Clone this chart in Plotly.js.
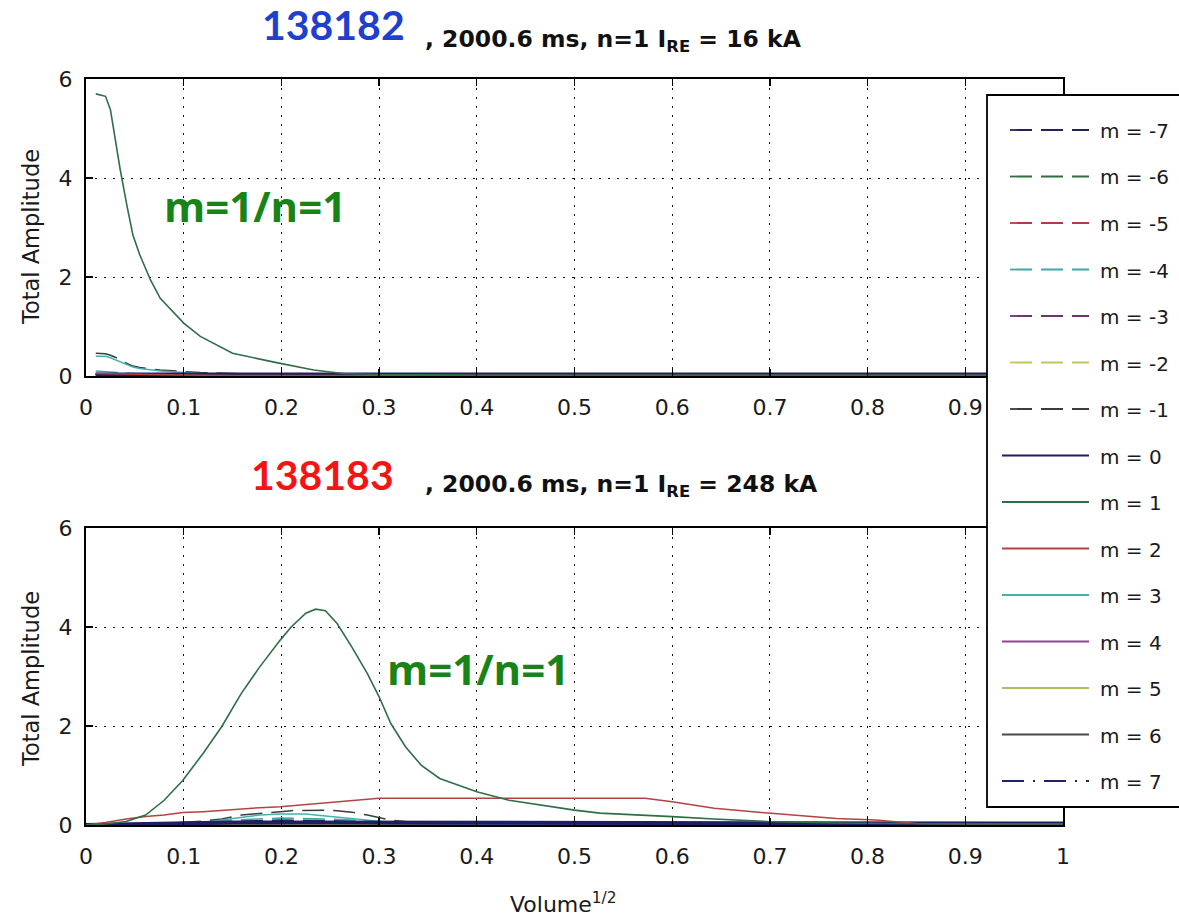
<!DOCTYPE html>
<html>
<head>
<meta charset="utf-8">
<script src="https://cdn.plot.ly/plotly-3.0.1.min.js"></script>
<style>html,body{margin:0;padding:0;background:#fff;}#chart{width:1179px;height:917px;}</style>
</head>
<body>
<div id="chart"></div>
<script>
// ---------------- DATA ----------------
const M_VALUES = [-7, -6, -5, -4, -3, -2, -1, 0, 1, 2, 3, 4, 5, 6, 7];
const M_LABELS = ["m = -7","m = -6","m = -5","m = -4","m = -3","m = -2","m = -1","m = 0","m = 1","m = 2","m = 3","m = 4","m = 5","m = 6","m = 7"];
const M_COLORS = ["#22225e","#2f6e3e","#b43a48","#3fa8a8","#6a3470","#c4c45a","#3c3c3c",
                  "#1e1e62","#2f6e46","#b04444","#45b0b0","#94409a","#b8b860","#4a4a4a","#22226a"];

const TITLE_TOP_SHOT = "138182";
const TITLE_TOP_REST = ", 2000.6 ms, n=1 I<sub>RE</sub> = 16 kA";
const TITLE_BOT_SHOT = "138183";
const TITLE_BOT_REST = ", 2000.6 ms, n=1 I<sub>RE</sub> = 248 kA";
const MODE_LABEL = "m=1/n=1";
const Y_TITLE = "Total Amplitude";
const X_TITLE = "Volume<sup>1/2</sup>";

// Top panel (138182): dense grid for the visible curves
const TOP_X = [0.01, 0.02, 0.025, 0.03, 0.035, 0.042, 0.048, 0.055, 0.066, 0.076, 0.1, 0.117, 0.15, 0.195, 0.233, 0.263, 0.3, 0.4, 0.5, 0.6, 0.7, 0.8, 0.9, 1.0];
const top_m1   = [5.70, 5.65, 5.38, 4.77, 4.17, 3.43, 2.85, 2.45, 1.94, 1.57, 1.07, 0.80, 0.46, 0.27, 0.12, 0.05, 0.03, 0.02, 0.02, 0.02, 0.02, 0.02, 0.02, 0.02];
const top_mn1  = [0.46, 0.45, 0.42, 0.38, 0.32, 0.25, 0.20, 0.17, 0.14, 0.12, 0.09, 0.07, 0.05, 0.03, 0.02, 0.02, 0.01, 0.01, 0.01, 0.01, 0.01, 0.01, 0.01, 0.01];
const top_m3   = [0.40, 0.40, 0.37, 0.33, 0.28, 0.22, 0.18, 0.15, 0.12, 0.10, 0.07, 0.05, 0.03, 0.02, 0.01, 0.01, 0.01, 0.01, 0.01, 0.01, 0.01, 0.01, 0.01, 0.01];
// Top panel: coarse grid for the modes that stay at the floor
const TOP_XS = [0.01, 0.05, 0.1, 0.15, 0.2, 0.3, 0.4, 0.5, 0.6, 0.7, 0.8, 0.9, 1.0];
const top_mn7 = [0.03, 0.03, 0.03, 0.03, 0.03, 0.03, 0.03, 0.03, 0.03, 0.03, 0.03, 0.03, 0.03];
const top_mn6 = [0.05, 0.03, 0.02, 0.01, 0.01, 0.01, 0.01, 0.01, 0.01, 0.01, 0.01, 0.01, 0.01];
const top_mn5 = [0.04, 0.02, 0.01, 0.01, 0.01, 0.01, 0.01, 0.01, 0.01, 0.01, 0.01, 0.01, 0.01];
const top_mn4 = [0.10, 0.05, 0.03, 0.02, 0.01, 0.01, 0.01, 0.01, 0.01, 0.01, 0.01, 0.01, 0.01];
const top_mn3 = [0.03, 0.02, 0.01, 0.01, 0.01, 0.01, 0.01, 0.01, 0.01, 0.01, 0.01, 0.01, 0.01];
const top_mn2 = [0.02, 0.01, 0.01, 0.01, 0.01, 0.01, 0.01, 0.01, 0.01, 0.01, 0.01, 0.01, 0.01];
const top_m0  = [0.03, 0.03, 0.03, 0.03, 0.03, 0.03, 0.03, 0.03, 0.03, 0.03, 0.03, 0.03, 0.03];
const top_m2  = [0.05, 0.03, 0.02, 0.01, 0.01, 0.01, 0.01, 0.01, 0.01, 0.01, 0.01, 0.01, 0.01];
const top_m4  = [0.03, 0.02, 0.01, 0.01, 0.01, 0.01, 0.01, 0.01, 0.01, 0.01, 0.01, 0.01, 0.01];
const top_m5  = [0.02, 0.01, 0.01, 0.01, 0.01, 0.01, 0.01, 0.01, 0.01, 0.01, 0.01, 0.01, 0.01];
const top_m6  = [0.03, 0.02, 0.01, 0.01, 0.01, 0.01, 0.01, 0.01, 0.01, 0.01, 0.01, 0.01, 0.01];
const top_m7  = [0.03, 0.03, 0.03, 0.03, 0.03, 0.03, 0.03, 0.03, 0.03, 0.03, 0.03, 0.03, 0.03];

// Bottom panel (138183): dense grid for the visible curves
const BOT_X = [0, 0.02, 0.041, 0.061, 0.08, 0.099, 0.12, 0.139, 0.159, 0.178, 0.199, 0.21, 0.225, 0.235, 0.245, 0.257, 0.272, 0.288, 0.30, 0.312, 0.327, 0.343, 0.362, 0.40, 0.433, 0.50, 0.526, 0.572, 0.6, 0.643, 0.698, 0.768, 0.808, 0.85, 0.9, 1.0];
const bot_m1  = [0, 0.02, 0.07, 0.20, 0.50, 0.90, 1.45, 1.99, 2.66, 3.20, 3.74, 4.00, 4.28, 4.36, 4.33, 4.07, 3.60, 3.06, 2.59, 2.05, 1.58, 1.21, 0.94, 0.67, 0.50, 0.30, 0.24, 0.20, 0.17, 0.12, 0.07, 0.04, 0.03, 0.02, 0.02, 0.02];
const bot_m2  = [0, 0.05, 0.12, 0.17, 0.20, 0.25, 0.27, 0.30, 0.32, 0.35, 0.37, 0.39, 0.41, 0.43, 0.45, 0.47, 0.50, 0.52, 0.54, 0.54, 0.54, 0.54, 0.54, 0.54, 0.54, 0.54, 0.54, 0.54, 0.47, 0.34, 0.24, 0.13, 0.10, 0.03, 0.02, 0.02];
const bot_mn1 = [0, 0.01, 0.02, 0.03, 0.04, 0.05, 0.08, 0.12, 0.20, 0.24, 0.27, 0.29, 0.30, 0.30, 0.30, 0.29, 0.26, 0.20, 0.15, 0.10, 0.07, 0.05, 0.04, 0.03, 0.03, 0.03, 0.03, 0.03, 0.03, 0.03, 0.03, 0.02, 0.02, 0.02, 0.02, 0.02];
const bot_m3  = [0, 0.01, 0.01, 0.02, 0.03, 0.04, 0.05, 0.10, 0.15, 0.20, 0.22, 0.22, 0.22, 0.20, 0.18, 0.15, 0.12, 0.09, 0.07, 0.05, 0.04, 0.03, 0.03, 0.02, 0.02, 0.02, 0.02, 0.02, 0.02, 0.02, 0.02, 0.02, 0.02, 0.03, 0.04, 0.02];
// Bottom panel: coarse grid for the modes that stay near the floor
const BOT_XS = [0, 0.1, 0.15, 0.2, 0.25, 0.3, 0.35, 0.4, 0.5, 0.6, 0.7, 0.8, 0.85, 0.9, 0.95, 1.0];
const bot_mn7 = [0, 0.05, 0.08, 0.10, 0.09, 0.06, 0.04, 0.03, 0.03, 0.03, 0.02, 0.02, 0.02, 0.02, 0.02, 0.02];
const bot_mn6 = [0, 0.03, 0.05, 0.07, 0.06, 0.04, 0.02, 0.02, 0.02, 0.02, 0.02, 0.01, 0.01, 0.01, 0.01, 0.01];
const bot_mn5 = [0, 0.02, 0.03, 0.03, 0.03, 0.02, 0.02, 0.01, 0.01, 0.01, 0.01, 0.02, 0.03, 0.02, 0.01, 0.01];
const bot_mn4 = [0, 0.05, 0.10, 0.14, 0.12, 0.08, 0.03, 0.02, 0.02, 0.02, 0.02, 0.02, 0.02, 0.03, 0.02, 0.01];
const bot_mn3 = [0, 0.02, 0.03, 0.04, 0.04, 0.03, 0.02, 0.01, 0.01, 0.01, 0.01, 0.01, 0.02, 0.01, 0.02, 0.03];
const bot_mn2 = [0, 0.01, 0.02, 0.02, 0.02, 0.02, 0.01, 0.01, 0.01, 0.01, 0.01, 0.01, 0.01, 0.01, 0.01, 0.01];
const bot_m0  = [0, 0.04, 0.05, 0.05, 0.05, 0.05, 0.04, 0.04, 0.04, 0.04, 0.03, 0.03, 0.03, 0.03, 0.03, 0.03];
const bot_m4  = [0, 0.02, 0.04, 0.06, 0.06, 0.04, 0.02, 0.02, 0.01, 0.01, 0.01, 0.02, 0.03, 0.01, 0.02, 0.03];
const bot_m5  = [0, 0.01, 0.02, 0.02, 0.02, 0.01, 0.01, 0.01, 0.01, 0.01, 0.01, 0.01, 0.01, 0.01, 0.01, 0.01];
const bot_m6  = [0, 0.02, 0.03, 0.04, 0.04, 0.03, 0.02, 0.02, 0.02, 0.03, 0.03, 0.02, 0.02, 0.02, 0.02, 0.02];
const bot_m7  = [0, 0.03, 0.04, 0.04, 0.04, 0.04, 0.03, 0.03, 0.03, 0.03, 0.03, 0.03, 0.03, 0.03, 0.03, 0.03];

// x/y pairs per mode, in M_VALUES order
const TOP_SERIES = [
  [TOP_XS, top_mn7], [TOP_XS, top_mn6], [TOP_XS, top_mn5], [TOP_XS, top_mn4], [TOP_XS, top_mn3], [TOP_XS, top_mn2], [TOP_X, top_mn1],
  [TOP_XS, top_m0], [TOP_X, top_m1], [TOP_XS, top_m2], [TOP_X, top_m3], [TOP_XS, top_m4], [TOP_XS, top_m5], [TOP_XS, top_m6], [TOP_XS, top_m7]
];
const BOT_SERIES = [
  [BOT_XS, bot_mn7], [BOT_XS, bot_mn6], [BOT_XS, bot_mn5], [BOT_XS, bot_mn4], [BOT_XS, bot_mn3], [BOT_XS, bot_mn2], [BOT_X, bot_mn1],
  [BOT_XS, bot_m0], [BOT_X, bot_m1], [BOT_X, bot_m2], [BOT_X, bot_m3], [BOT_XS, bot_m4], [BOT_XS, bot_m5], [BOT_XS, bot_m6], [BOT_XS, bot_m7]
];

// ---------------- STYLE / LAYOUT ----------------
const W = 1179, H = 917;
const px = x => x / W;
const py = y => 1 - y / H;
const DASHED = "22px,9px";
const DASHDOT = "22px,9px,2px,9px";
function dashFor(m) { return m < 0 ? DASHED : (m === 7 ? DASHDOT : "solid"); }
function widthFor(m) { return m === 0 ? 4 : (m === 1 ? 1.6 : 1.5); }

const FONT = "DejaVu Sans, Liberation Sans, Arial, sans-serif";
const traces = [];
// draw order: minor modes first, then the main ones on top
const ORDER = [0,1,2,3,4,5,11,12,13,14,6,10,7,9,8];
ORDER.forEach(i => {
  const m = M_VALUES[i];
  traces.push({x: TOP_SERIES[i][0], y: TOP_SERIES[i][1], xaxis: 'x', yaxis: 'y', type: 'scatter', mode: 'lines',
    name: M_LABELS[i], showlegend: false, hoverinfo: 'skip',
    line: {color: M_COLORS[i], width: widthFor(m), dash: dashFor(m)}});
});
ORDER.forEach(i => {
  const m = M_VALUES[i];
  traces.push({x: BOT_SERIES[i][0], y: BOT_SERIES[i][1], xaxis: 'x2', yaxis: 'y2', type: 'scatter', mode: 'lines',
    name: M_LABELS[i], showlegend: false, hoverinfo: 'skip',
    line: {color: M_COLORS[i], width: widthFor(m), dash: dashFor(m)}});
});

const xAxisBase = {
  range: [0, 1], dtick: 0.1, tick0: 0, domain: [px(86), px(1063)],
  showline: true, linecolor: '#000', linewidth: 2, mirror: 'ticks',
  ticks: 'inside', ticklen: 7, tickwidth: 1.3, tickcolor: '#000',
  showgrid: true, gridcolor: '#111', gridwidth: 1, griddash: '2px,7px',
  zeroline: false, fixedrange: true, ticklabelstandoff: 11,
  tickfont: {family: FONT, size: 22, color: '#1a1a1a'}
};
const yAxisBase = {
  range: [0, 6], dtick: 2, tick0: 0,
  showline: true, linecolor: '#000', linewidth: 2, mirror: 'ticks',
  ticks: 'inside', ticklen: 7, tickwidth: 1.3, tickcolor: '#000',
  showgrid: true, gridcolor: '#111', gridwidth: 1, griddash: '2px,7px',
  zeroline: false, fixedrange: true, ticklabelstandoff: 7,
  tickfont: {family: FONT, size: 22, color: '#1a1a1a'}
};

const annotations = [
  {text: TITLE_TOP_SHOT, x: px(333), y: py(25), xref: 'paper', yref: 'paper', showarrow: false, xanchor: 'center', yanchor: 'middle',
   font: {family: 'Lato, Open Sans, sans-serif', size: 41, color: '#1f3fcf', weight: 'bold'}},
  {text: TITLE_TOP_REST, x: px(423), y: py(41), xref: 'paper', yref: 'paper', showarrow: false, xanchor: 'left', yanchor: 'middle',
   font: {family: FONT, size: 23.5, color: '#111', weight: 'bold'}},
  {text: TITLE_BOT_SHOT, x: px(322), y: py(474), xref: 'paper', yref: 'paper', showarrow: false, xanchor: 'center', yanchor: 'middle',
   font: {family: 'Lato, Open Sans, sans-serif', size: 41, color: '#f51414', weight: 'bold'}},
  {text: TITLE_BOT_REST, x: px(423), y: py(486), xref: 'paper', yref: 'paper', showarrow: false, xanchor: 'left', yanchor: 'middle',
   font: {family: FONT, size: 23.5, color: '#111', weight: 'bold'}},
  {text: MODE_LABEL, x: px(255), y: py(205), xref: 'paper', yref: 'paper', showarrow: false, xanchor: 'center', yanchor: 'middle',
   font: {family: 'Open Sans, Lato, sans-serif', size: 42, color: '#188418', weight: 'bold'}},
  {text: MODE_LABEL, x: px(478), y: py(668), xref: 'paper', yref: 'paper', showarrow: false, xanchor: 'center', yanchor: 'middle',
   font: {family: 'Open Sans, Lato, sans-serif', size: 42, color: '#188418', weight: 'bold'}},
  {text: Y_TITLE, x: px(31), y: py(237), xref: 'paper', yref: 'paper', showarrow: false, textangle: -90, xanchor: 'center', yanchor: 'middle',
   font: {family: FONT, size: 22.5, color: '#1a1a1a'}},
  {text: Y_TITLE, x: px(31), y: py(679), xref: 'paper', yref: 'paper', showarrow: false, textangle: -90, xanchor: 'center', yanchor: 'middle',
   font: {family: FONT, size: 22.5, color: '#1a1a1a'}},
  {text: X_TITLE, x: px(508), y: py(903), xref: 'paper', yref: 'paper', showarrow: false, xanchor: 'left', yanchor: 'middle',
   font: {family: FONT, size: 22, color: '#1a1a1a'}}
];

// custom legend box (overlapping the upper panel, as in the original figure)
const shapes = [
  {type: 'rect', xref: 'paper', yref: 'paper', x0: px(987), x1: px(1195), y0: py(807), y1: py(95),
   line: {color: '#000', width: 1.8}, fillcolor: '#fff', layer: 'above'}
];
M_VALUES.forEach((m, i) => {
  const yy = 130 + i * 46.5;
  const x0 = m < 0 ? 1010 : 1002;
  shapes.push({type: 'line', xref: 'paper', yref: 'paper', x0: px(x0), x1: px(1089), y0: py(yy), y1: py(yy),
    line: {color: M_COLORS[i], width: 1.8, dash: dashFor(m)}, layer: 'above'});
  annotations.push({text: M_LABELS[i], x: px(1098), y: py(yy + 1), xref: 'paper', yref: 'paper', showarrow: false,
    xanchor: 'left', yanchor: 'middle', font: {family: FONT, size: 20, color: '#1a1a1a'}});
});

const layout = {
  width: W, height: H, margin: {l: 0, r: 0, t: 0, b: 0},
  paper_bgcolor: '#fff', plot_bgcolor: '#fff', showlegend: false,
  xaxis: Object.assign({}, xAxisBase, {anchor: 'y'}),
  yaxis: Object.assign({}, yAxisBase, {anchor: 'x', domain: [py(376), py(79)]}),
  xaxis2: Object.assign({}, xAxisBase, {anchor: 'y2'}),
  yaxis2: Object.assign({}, yAxisBase, {anchor: 'x2', domain: [py(825), py(528)]}),
  annotations: annotations,
  shapes: shapes
};

Plotly.newPlot('chart', traces, layout, {staticPlot: true, displayModeBar: false});
</script>
</body>
</html>
